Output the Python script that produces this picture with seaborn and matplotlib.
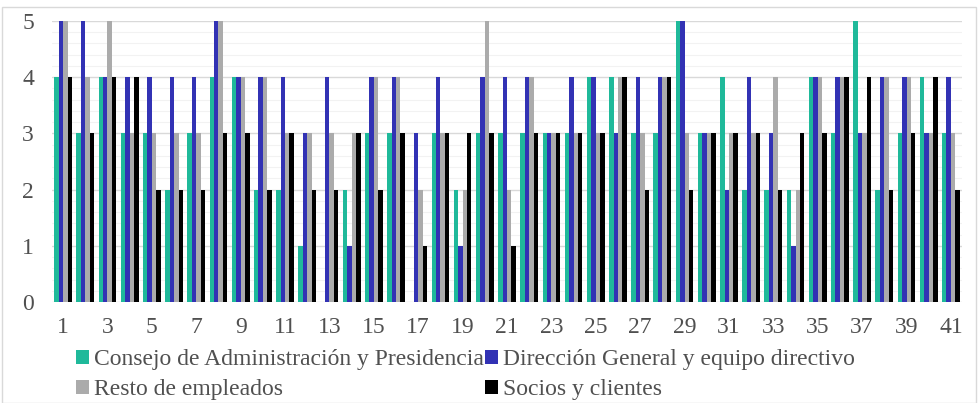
import matplotlib
matplotlib.use("Agg")
import matplotlib.pyplot as plt
import pandas as pd
import seaborn as sns
from matplotlib.patches import Patch, Rectangle
from matplotlib.ticker import MultipleLocator

# Items 1..41 and the rating (0-5) given by each stakeholder group
items = list(range(1, 42))
consejo = [4, 3, 4, 3, 3, 2, 3, 4, 4, 2, 2, 1, 0, 2, 3, 3, 0, 3, 2, 3, 3,
           3, 3, 3, 4, 4, 3, 3, 5, 3, 4, 2, 2, 2, 4, 3, 5, 2, 3, 4, 3]
direccion = [5, 5, 4, 4, 4, 4, 4, 5, 4, 4, 4, 3, 4, 1, 4, 4, 3, 4, 1, 4, 4,
             4, 3, 4, 4, 3, 4, 4, 5, 3, 2, 4, 3, 1, 4, 4, 3, 4, 4, 3, 4]
empleados = [5, 4, 5, 3, 3, 3, 3, 5, 4, 4, 3, 3, 3, 3, 4, 4, 2, 3, 2, 5, 2,
             4, 3, 3, 3, 4, 3, 4, 3, 3, 3, 3, 4, 2, 4, 4, 3, 4, 4, 3, 3]
socios = [4, 3, 4, 4, 2, 2, 2, 3, 3, 2, 3, 2, 2, 3, 2, 3, 1, 3, 3, 3, 1,
          3, 3, 3, 3, 4, 2, 4, 2, 3, 3, 3, 2, 3, 3, 4, 4, 2, 3, 4, 2]

series_names = ["Consejo de Administración y Presidencia",
                "Dirección General y equipo directivo",
                "Resto de empleados",
                "Socios y clientes"]
series_colors = ["#1FB99A", "#3232B4", "#ABABAB", "#000000"]

records = []
for name, vals in zip(series_names, [consejo, direccion, empleados, socios]):
    for it, v in zip(items, vals):
        records.append({"item": str(it), "serie": name, "valor": v})
df = pd.DataFrame(records)

sns.set_style("white")
plt.rcParams["font.family"] = ["Liberation Serif", "DejaVu Serif"]
text_color = "#505050"
font_size = 17

fig = plt.figure(figsize=(9.79, 4.03), dpi=100)
ax = fig.add_axes([52 / 979, 101 / 403, 910 / 979, 281 / 403])

sns.barplot(data=df, x="item", y="valor", hue="serie",
            order=[str(i) for i in items], hue_order=series_names,
            palette=series_colors, saturation=1, width=0.8,
            linewidth=0, legend=False, ax=ax, zorder=3)

ax.set_ylim(0, 5)
ax.set_xlim(-0.5, len(items) - 0.5)
ax.yaxis.set_major_locator(MultipleLocator(1))
ax.yaxis.set_minor_locator(MultipleLocator(0.2))
ax.grid(axis="y", which="major", color="#d9d9d9", linewidth=1, zorder=0)
ax.grid(axis="y", which="minor", color="#f2f2f2", linewidth=0.8, zorder=0)
ax.grid(axis="x", visible=False)
ax.set_axisbelow(True)

ax.set_xticks(range(0, len(items), 2))
ax.set_xticklabels([str(i) for i in items[::2]])
ax.tick_params(axis="both", which="both", length=0, labelsize=font_size,
               labelcolor=text_color)
ax.tick_params(axis="x", pad=11)
ax.tick_params(axis="y", pad=13)
ax.set_xlabel("")
ax.set_ylabel("")
for s in ax.spines.values():
    s.set_visible(False)

# Legend filled row by row: matplotlib fills columns first, so reorder
handles = [Patch(facecolor=c, edgecolor="none") for c in series_colors]
order = [0, 2, 1, 3]
fig.legend([handles[i] for i in order], [series_names[i] for i in order],
           loc="upper left", bbox_to_anchor=(0.078, 0.134), ncol=2,
           frameon=False, fontsize=font_size, labelcolor=text_color,
           handlelength=0.55, handleheight=0.55, handletextpad=0.2,
           columnspacing=0.05, labelspacing=0.38, borderpad=0,
           borderaxespad=0)

# Light frame around the whole chart
fig.patches.append(Rectangle((2 / 979, 0), 974 / 979, 396 / 403,
                             transform=fig.transFigure, fill=False,
                             edgecolor="#d9d9d9", linewidth=1))

fig.savefig("out.png", dpi=100)
